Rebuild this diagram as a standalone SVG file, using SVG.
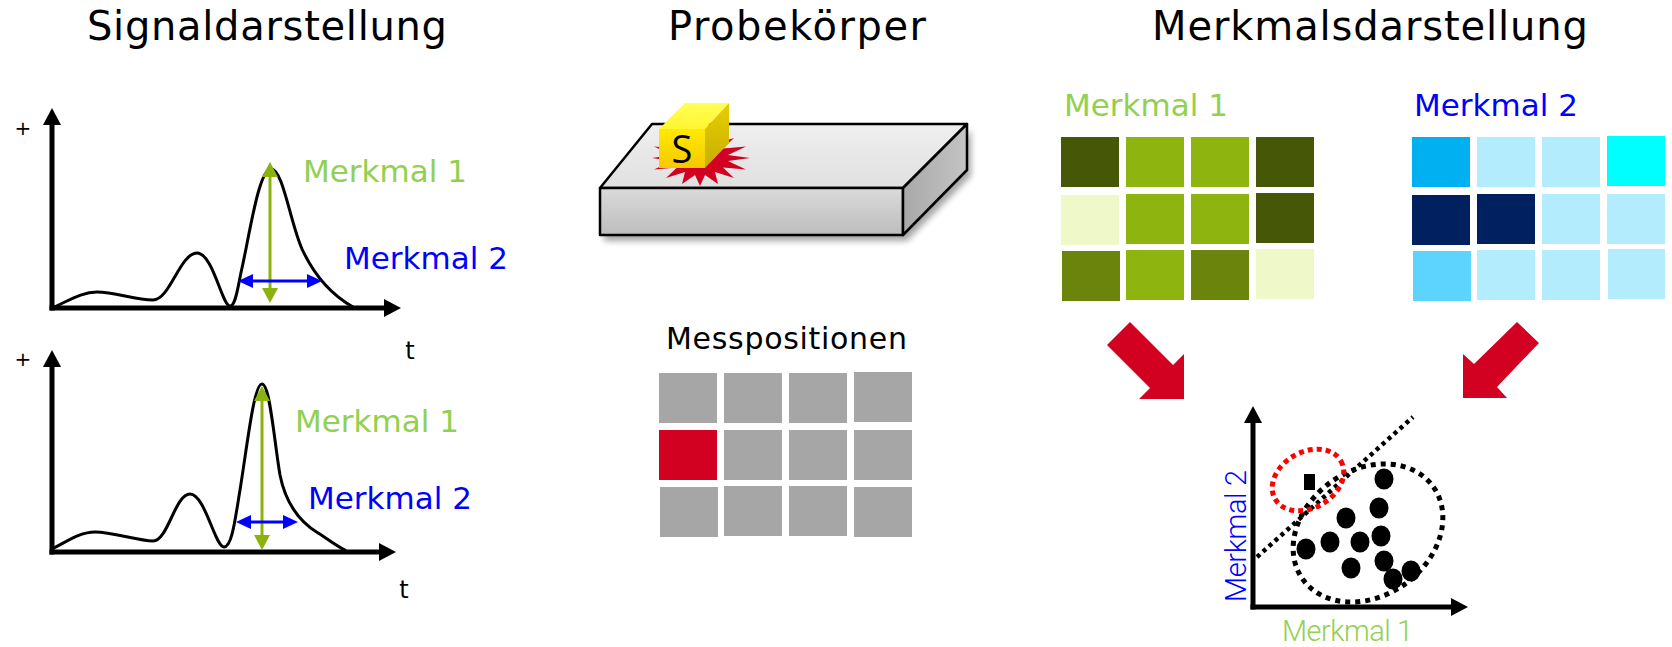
<svg xmlns="http://www.w3.org/2000/svg" width="1672" height="647" viewBox="0 0 1672 647">
<defs>
<style>
.title{font-family:"DejaVu Sans",Verdana,sans-serif;font-size:40px;fill:#000}
.lbl{font-family:"DejaVu Sans",Verdana,sans-serif;font-size:31px}
.g{fill:#92D050}
.b{fill:#0000FF}
.small{font-family:"DejaVu Sans",Verdana,sans-serif;font-size:20px;fill:#000}
.tl{font-family:"DejaVu Sans",Verdana,sans-serif;font-size:24px;fill:#000}
.ax2{font-family:Roboto,"Liberation Sans",sans-serif;font-size:29px}
.axis{stroke:#000;stroke-width:5;fill:none;marker-end:url(#axHead)}
.curve{stroke:#000;stroke-width:3;fill:none;stroke-linejoin:round;stroke-linecap:round}
.garrow{stroke:#8BB20E;stroke-width:3;marker-start:url(#gHead);marker-end:url(#gHead)}
.barrow{stroke:#0000FF;stroke-width:3;marker-start:url(#bHead);marker-end:url(#bHead)}
.pos{fill:#A6A6A6}
.red{fill:#D20021}
.edge{stroke:#000;stroke-width:2.5;stroke-linejoin:round}
.dots{fill:none;stroke:#000;stroke-width:5;stroke-dasharray:5 5}
</style>
<marker id="axHead" markerUnits="userSpaceOnUse" markerWidth="18" markerHeight="18" viewBox="0 0 18 18" refX="1" refY="9" orient="auto">
<path d="M0,0 L17,9 L0,18 Z" fill="#000"/>
</marker>
<marker id="gHead" markerUnits="userSpaceOnUse" markerWidth="15" markerHeight="16" viewBox="0 0 15 16" refX="1" refY="8" orient="auto-start-reverse">
<path d="M0,0 L15,8 L0,16 Z" fill="#8BB20E"/>
</marker>
<marker id="bHead" markerUnits="userSpaceOnUse" markerWidth="15" markerHeight="14" viewBox="0 0 15 14" refX="1" refY="7" orient="auto-start-reverse">
<path d="M0,0 L15,7 L0,14 Z" fill="#0000FF"/>
</marker>
<linearGradient id="slabTop" x1="0" y1="0" x2="0" y2="1">
<stop offset="0" stop-color="#EFEFEF"/><stop offset="1" stop-color="#E0E0E0"/>
</linearGradient>
<linearGradient id="slabFront" x1="0" y1="0" x2="0" y2="1">
<stop offset="0" stop-color="#DADADA"/><stop offset="1" stop-color="#BDBDBD"/>
</linearGradient>
<linearGradient id="slabSide" x1="0" y1="0" x2="1" y2="0">
<stop offset="0" stop-color="#A8A8A8"/><stop offset="1" stop-color="#C4C4C4"/>
</linearGradient>
<linearGradient id="cubeFront" x1="0" y1="0" x2="0" y2="1">
<stop offset="0" stop-color="#FFEA00"/><stop offset="1" stop-color="#F7C800"/>
</linearGradient>
<linearGradient id="cubeTop" x1="0" y1="1" x2="0" y2="0">
<stop offset="0" stop-color="#FFF530"/><stop offset="1" stop-color="#FFFF55"/>
</linearGradient>
<linearGradient id="cubeSide" x1="0" y1="0" x2="0" y2="1">
<stop offset="0" stop-color="#E6CF00"/><stop offset="1" stop-color="#C9AE00"/>
</linearGradient>
<filter id="soft" x="-10%" y="-20%" width="120%" height="150%">
<feGaussianBlur stdDeviation="3"/>
</filter>
</defs>

<rect width="1672" height="647" fill="#FFFFFF"/>

<!-- section headings -->
<g id="headings">
<text class="title" x="87" y="40" textLength="360">Signaldarstellung</text>
<text class="title" x="668" y="40" textLength="258">Probekörper</text>
<text class="title" x="1152" y="40" textLength="436">Merkmalsdarstellung</text>
</g>

<!-- upper signal plot -->
<g id="signal-top">
<line class="axis" x1="52" y1="310.5" x2="52" y2="124"/>
<line class="axis" x1="49.5" y1="308" x2="385" y2="308"/>
<text class="small" x="23" y="135" text-anchor="middle">+</text>
<text class="tl" x="410" y="359" text-anchor="middle">t</text>
<path class="curve" d="M52,308 C70,300 82,292 97,292 C115,292 135,300 153,300 C170,300 180,253 197,253 C213,253 222,306 230,306 C236,306 238,285 242,268 C250,232 259,169 271,169 C283,169 290,222 302,249 C314,275 330,294 353,307"/>
<line class="garrow" x1="270" y1="176" x2="270" y2="289"/>
<line class="barrow" x1="252" y1="281" x2="308" y2="281"/>
<text class="lbl g" x="303" y="182">Merkmal 1</text>
<text class="lbl b" x="344" y="269">Merkmal 2</text>
</g>

<!-- lower signal plot -->
<g id="signal-bottom">
<line class="axis" x1="52" y1="554.5" x2="52" y2="366"/>
<line class="axis" x1="49.5" y1="552" x2="380" y2="552"/>
<text class="small" x="23" y="366" text-anchor="middle">+</text>
<text class="tl" x="404" y="598" text-anchor="middle">t</text>
<path class="curve" d="M52,549 C68,541 80,532 95,532 C113,532 138,541 153,541 C168,541 175,494 190,494 C205,494 215,547 224,547 C232,547 235,520 240,490 C248,440 254,384 262,384 C270,384 274,440 280,475 C286,505 300,522 318,533 C328,539 335,545 345,550"/>
<line class="garrow" x1="262" y1="400" x2="262" y2="536"/>
<line class="barrow" x1="250" y1="522" x2="284" y2="522"/>
<text class="lbl g" x="295" y="432">Merkmal 1</text>
<text class="lbl b" x="308" y="509">Merkmal 2</text>
</g>

<!-- specimen block with sensor -->
<g id="specimen">
<polygon points="604,194 907,194 971,130 971,176 907,241 604,241" fill="#000" opacity="0.35" filter="url(#soft)"/>
<polygon class="edge" points="600,188 652,124 967,124 903,188" fill="url(#slabTop)"/>
<rect class="edge" x="600" y="188" width="303" height="47" fill="url(#slabFront)"/>
<polygon class="edge" points="903,188 967,124 967,170 903,235" fill="url(#slabSide)"/>
<!-- contact burst under the sensor -->
<polygon class="red" points="750,158 728,161 746,169.5 723,167.5 734,178 715,172 718,184 705,175 700,186 695,175 682,184 685,172 666,178 677,167.5 654,169.5 672,161 652,158 672,155 654,146.5 677,148.5 666,138 685,144 682,132 695,141 700,130 705,141 718,132 715,144 734,138 723,148.5 746,146.5 728,155"/>
<polygon points="659,129 685,103 729,103 705,129" fill="url(#cubeTop)"/>
<polygon points="705,129 729,103 729,143 705,168" fill="url(#cubeSide)"/>
<rect x="659" y="129" width="46" height="39" fill="url(#cubeFront)"/>
<text x="682" y="163" text-anchor="middle" font-family="'Open Sans','Noto Sans',sans-serif" font-size="38" fill="#000">S</text>
</g>

<!-- measurement positions -->
<g id="positions">
<text x="666" y="349" textLength="241" font-family="'DejaVu Sans',Verdana,sans-serif" font-size="30" fill="#000">Messpositionen</text>
<rect class="pos" x="659" y="373" width="58" height="50"/>
<rect class="pos" x="724" y="373" width="58" height="50"/>
<rect class="pos" x="789" y="373" width="58" height="50"/>
<rect class="pos" x="854" y="372" width="58" height="50"/>
<rect class="red" x="659" y="430" width="58" height="50"/>
<rect class="pos" x="724" y="430" width="58" height="50"/>
<rect class="pos" x="789" y="430" width="58" height="50"/>
<rect class="pos" x="854" y="430" width="58" height="50"/>
<rect class="pos" x="660" y="487" width="58" height="50"/>
<rect class="pos" x="724" y="486" width="58" height="50"/>
<rect class="pos" x="789" y="486" width="58" height="50"/>
<rect class="pos" x="854" y="487" width="58" height="50"/>
</g>

<!-- feature map 1 -->
<g id="feature1-map">
<text class="lbl g" x="1064" y="116">Merkmal 1</text>
<rect x="1061" y="137" width="58" height="50" fill="#475708"/>
<rect x="1126" y="137" width="58" height="50" fill="#8DB40F"/>
<rect x="1191" y="137" width="58" height="50" fill="#8DB40F"/>
<rect x="1256" y="137" width="58" height="50" fill="#475708"/>
<rect x="1061" y="195" width="58" height="50" fill="#EEF8C8"/>
<rect x="1126" y="194" width="58" height="50" fill="#8DB40F"/>
<rect x="1191" y="194" width="58" height="50" fill="#8DB40F"/>
<rect x="1256" y="193" width="58" height="50" fill="#475708"/>
<rect x="1062" y="251" width="58" height="50" fill="#6B850C"/>
<rect x="1126" y="250" width="58" height="50" fill="#8DB40F"/>
<rect x="1191" y="250" width="58" height="50" fill="#6B850C"/>
<rect x="1256" y="249" width="58" height="50" fill="#EEF8C8"/>
</g>

<!-- feature map 2 -->
<g id="feature2-map">
<text class="lbl b" x="1414" y="116">Merkmal 2</text>
<rect x="1412" y="137" width="58" height="50" fill="#00B0F0"/>
<rect x="1477" y="137" width="58" height="50" fill="#B3ECFD"/>
<rect x="1542" y="137" width="58" height="50" fill="#B3ECFD"/>
<rect x="1607" y="136" width="58" height="50" fill="#00FFFF"/>
<rect x="1412" y="195" width="58" height="50" fill="#002060"/>
<rect x="1477" y="194" width="58" height="50" fill="#002060"/>
<rect x="1542" y="194" width="58" height="50" fill="#B3ECFD"/>
<rect x="1607" y="194" width="58" height="50" fill="#B3ECFD"/>
<rect x="1413" y="251" width="58" height="50" fill="#5DD4FE"/>
<rect x="1477" y="250" width="58" height="50" fill="#B3ECFD"/>
<rect x="1542" y="250" width="58" height="50" fill="#B3ECFD"/>
<rect x="1608" y="249" width="57" height="50" fill="#B3ECFD"/>
</g>

<!-- combined feature scatter plot -->
<g id="scatter">
<line class="axis" x1="1253" y1="609.5" x2="1253" y2="422"/>
<line class="axis" x1="1250.5" y1="607" x2="1452" y2="607"/>
<line x1="1257" y1="557" x2="1413" y2="417" stroke="#000" stroke-width="4.5" stroke-dasharray="4 4"/>
<ellipse class="dots" cx="1368" cy="533" rx="80" ry="63" transform="rotate(-35 1368 533)"/>
<ellipse cx="1308" cy="480" rx="38" ry="28" transform="rotate(-30 1308 480)" fill="none" stroke="#FF0000" stroke-width="5" stroke-dasharray="5 4"/>
<rect x="1304" y="474" width="11" height="16" fill="#000"/>
<g fill="#000">
<ellipse cx="1384" cy="479" rx="9.5" ry="10.5"/>
<ellipse cx="1379" cy="508" rx="9.5" ry="10.5"/>
<ellipse cx="1346" cy="518" rx="9.5" ry="10.5"/>
<ellipse cx="1381" cy="536" rx="9.5" ry="10.5"/>
<ellipse cx="1330" cy="542" rx="9.5" ry="10.5"/>
<ellipse cx="1360" cy="542" rx="9.5" ry="10.5"/>
<ellipse cx="1306" cy="549" rx="9.5" ry="10.5"/>
<ellipse cx="1351" cy="568" rx="9.5" ry="10.5"/>
<ellipse cx="1384" cy="561" rx="9.5" ry="10.5"/>
<ellipse cx="1393" cy="579" rx="9.5" ry="10.5"/>
<ellipse cx="1411" cy="571" rx="9.5" ry="10.5"/>
</g>
<text class="ax2 b" transform="translate(1246,602) rotate(-90)" textLength="132" font-weight="300">Merkmal 2</text>
<text class="ax2 g" x="1282" y="641" textLength="131" font-weight="300">Merkmal 1</text>
</g>

<!-- arrows from the feature maps into the scatter plot -->
<g id="connectors">
<polygon class="red" points="1107,345 1130,322 1173,365 1184,354 1184,399 1139,399 1150,388"/>
<polygon class="red" points="1517,322 1539,343 1497,387 1507,398 1463,398 1463,354 1474,364"/>
</g>
</svg>
